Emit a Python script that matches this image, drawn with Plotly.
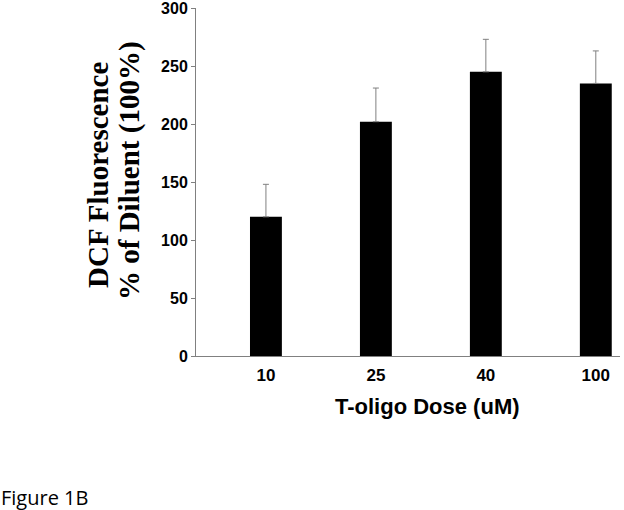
import plotly.graph_objects as go

doses = ["10", "25", "40", "100"]
values = [120, 202, 245, 235]
errors = [28, 29, 28, 28]

fig = go.Figure()
fig.add_trace(go.Bar(
    x=doses, y=values,
    marker=dict(color="black", line=dict(width=0)),
    width=0.29,
    error_y=dict(type="data", array=errors, symmetric=False, arrayminus=[0]*4,
                 color="#808080", thickness=1, width=3, visible=True),
))

L, R, T, B = 196, 4, 8, 154
PW = 624 - L - R
PH = 510 - T - B

def px_x(x):
    return (x - L) / PW

def px_y(y):
    return (510 - B - y) / PH

title_font = dict(family="Liberation Serif, Times New Roman", size=29, color="black", weight="bold")

fig.update_layout(
    width=624, height=510,
    paper_bgcolor="white", plot_bgcolor="white",
    margin=dict(l=L, r=R, t=T, b=B, autoexpand=False),
    showlegend=False,
    xaxis=dict(
        type="category", range=[-0.636, 3.22], automargin=False,
        showline=True, linecolor="#808080", linewidth=1,
        ticks="", showgrid=False, ticklabeloverflow="allow", ticklabelstandoff=4,
        tickfont=dict(family="Liberation Sans, Arial", size=17, color="black", weight="bold"),
    ),
    yaxis=dict(
        range=[0, 300], tickvals=[0, 50, 100, 150, 200, 250, 300], automargin=False,
        showline=True, linecolor="#808080", linewidth=1,
        ticks="outside", ticklen=4, tickcolor="#808080",
        showgrid=False, zeroline=False, ticklabeloverflow="allow",
        tickfont=dict(family="Liberation Sans, Arial", size=16, color="black", weight="bold"),
    ),
    annotations=[
        dict(text="DCF Fluorescence", xref="paper", yref="paper",
             x=px_x(98), y=px_y(175), xanchor="center", yanchor="middle",
             textangle=-90, showarrow=False, font=title_font),
        dict(text="% of Diluent (100%)", xref="paper", yref="paper",
             x=px_x(130), y=px_y(171), xanchor="center", yanchor="middle",
             textangle=-90, showarrow=False, font=title_font),
        dict(text="T-oligo Dose (uM)", xref="paper", yref="paper",
             x=px_x(427), y=px_y(406), xanchor="center", yanchor="middle",
             showarrow=False,
             font=dict(family="Liberation Sans, Arial", size=22, color="black", weight="bold")),
        dict(text="Figure 1B", xref="paper", yref="paper",
             x=px_x(-1), y=px_y(497), xanchor="left", yanchor="middle",
             showarrow=False,
             font=dict(family="Open Sans, Liberation Sans", size=20, color="black")),
    ],
)

fig.write_html("out.html", config={"displayModeBar": False},
               post_script="document.body.style.margin='0';document.body.style.overflow='hidden';")
